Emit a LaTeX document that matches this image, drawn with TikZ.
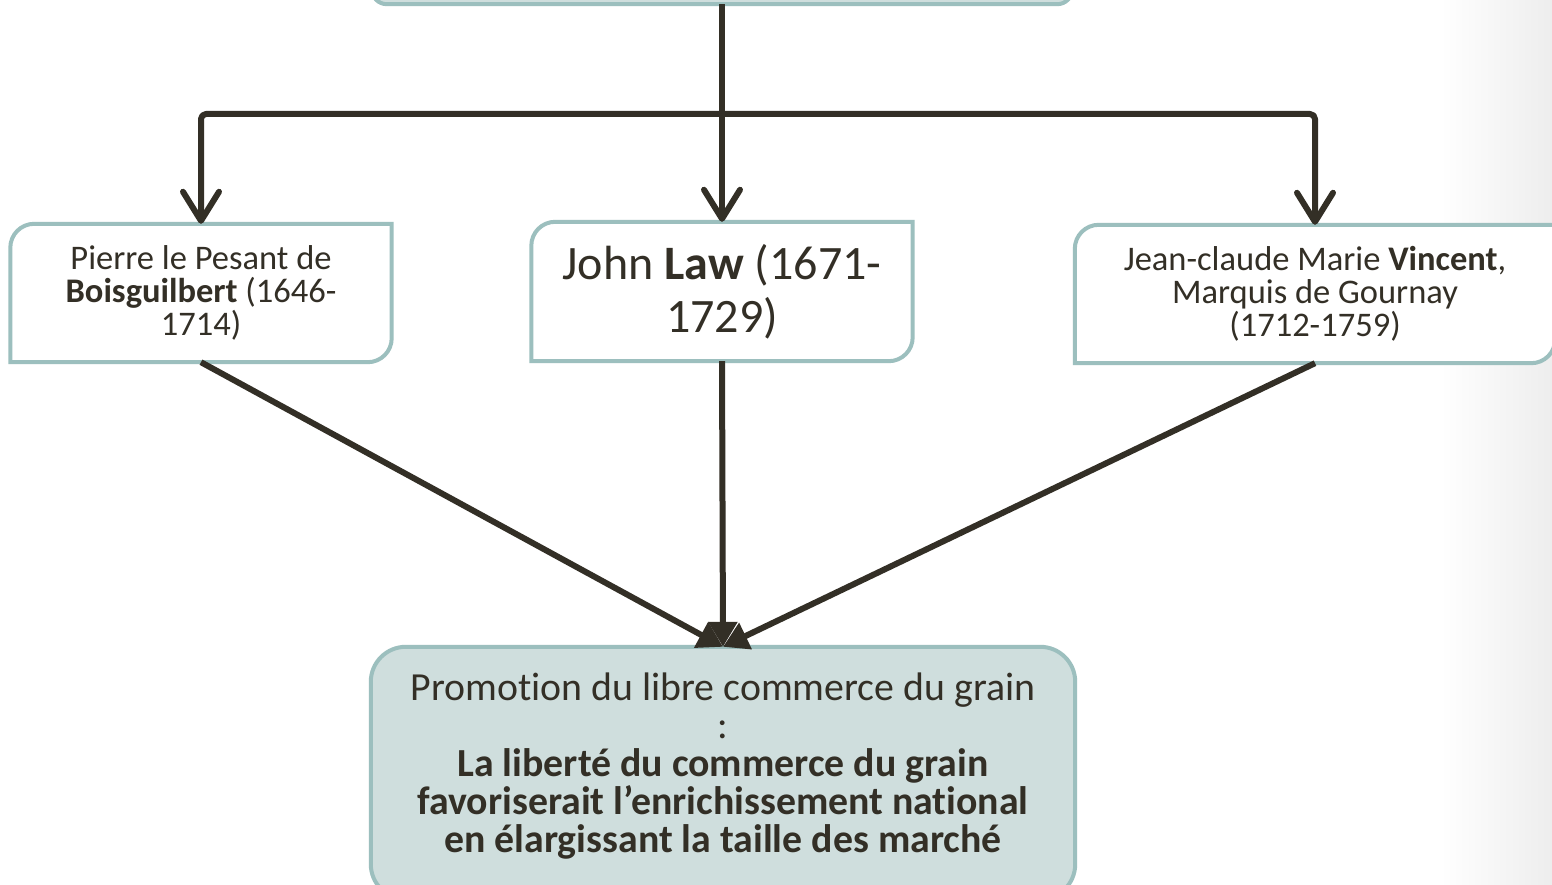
\documentclass[tikz,border=0pt]{standalone}
\usepackage{fontspec}
\setmainfont{Carlito}[Ligatures=NoCommon]
\usetikzlibrary{arrows.meta}
\definecolor{ink}{HTML}{332F26}
\definecolor{rim}{HTML}{9CBFBE}
\definecolor{pane}{HTML}{CFDEDD}
\pgfdeclarelayer{back}
\pgfsetlayers{back,main}

% box with rounded top-left and bottom-right corners (radius 24pt)
\newcommand\diagframe[1]{%
  \draw[rimline, fill=white] (#1.south west) -- ([yshift=-24pt]#1.north west)
    .. controls ([yshift=-10.7pt]#1.north west) and ([xshift=10.7pt]#1.north west)
    .. ([xshift=24pt]#1.north west)
    -- (#1.north east) -- ([yshift=24pt]#1.south east)
    .. controls ([yshift=10.7pt]#1.south east) and ([xshift=-10.7pt]#1.south east)
    .. ([xshift=-24pt]#1.south east) -- cycle;}

\begin{document}
\begin{tikzpicture}[x=1pt,y=-1pt,
  box/.style={rectangle, inner sep=0pt, align=center, text=ink},
  small/.style={font=\fontsize{34.5pt}{32.8pt}\selectfont},
  large/.style={font=\fontsize{48pt}{53pt}\selectfont},
  goalfont/.style={font=\fontsize{39.8pt}{37.8pt}\selectfont},
  rimline/.style={draw=rim, line width=4pt},
  conn/.style={draw=ink, line width=6pt, line join=round},
  barb/.style={conn, -{Straight Barb[length=29pt,width=36pt,round]}},
  wedge/.style={conn, -{Triangle[length=25pt,width=28pt]}},
]
\useasboundingbox (0,0) rectangle (1552,885);

% source box (only its lower edge is in view)
\node[box, minimum width=700pt, minimum height=100pt] (src) at (722,-46) {};

% the three authors
\node[box, small, minimum width=381pt, minimum height=138pt] (pierre) at (201,293)
  {Pierre le Pesant de\\\textbf{Boisguilbert} (1646-\\1714)};
\node[box, large, minimum width=381pt, minimum height=139pt] (law) at (722,291.5)
  {John \textbf{Law} (1671-\\1729)};
\node[box, small, minimum width=480pt, minimum height=138pt] (gournay) at (1315,294)
  {Jean-claude Marie \textbf{Vincent},\\Marquis de Gournay\\(1712-1759)};

% common conclusion
\node[box, goalfont, minimum width=704pt, minimum height=238pt] (goal) at (723,766)
  {Promotion du libre commerce du grain\\:\\
   \textbf{La liberté du commerce du grain}\\
   \textbf{favoriserait l’enrichissement national}\\
   \textbf{en élargissant la taille des marché}};

\coordinate (fork) at (722,114);

\begin{pgfonlayer}{back}
  \fill[white] (0,0) rectangle (1552,885);
  \shade[left color=white, right color=black!7] (1440,0) rectangle (1552,885);
  \draw[rimline, fill=pane, rounded corners=15pt] (src.north west) rectangle (src.south east);
  \diagframe{pierre}
  \diagframe{law}
  \diagframe{gournay}
  \draw[rimline, fill=pane, rounded corners=35pt]
    (goal.north west) rectangle ([yshift=-14pt]goal.south east);
\end{pgfonlayer}

% connectors
\draw[barb] (src.south) -- (law.north);
\draw[barb, rounded corners=5pt] (fork) -| (pierre.north);
\draw[barb, rounded corners=5pt] (fork) -| (gournay.north);
\draw[wedge] (pierre.south) -- (goal.north);
\draw[wedge] (law.south) -- (goal.north);
\draw[wedge] (gournay.south) -- (goal.north);
\end{tikzpicture}
\end{document}
